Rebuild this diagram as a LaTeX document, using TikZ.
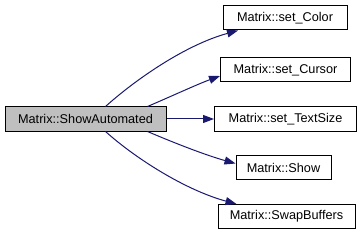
\documentclass[tikz,border=0pt]{standalone}
\usepackage{fontspec}
\setmainfont{Liberation Sans}
\usetikzlibrary{arrows.meta,calc}
\definecolor{edgeblue}{HTML}{191970}
\definecolor{maingray}{HTML}{BFBFBF}
\tikzset{
  fn/.style={draw=black, line width=1pt, fill=white, inner sep=0pt, minimum height=24pt,
    font=\fontsize{12.7}{14}\selectfont, anchor=center},
  edge/.style={draw=edgeblue, line width=1pt, -{Triangle[length=11pt,width=8pt]}}
}
\begin{document}
\begin{tikzpicture}[x=1pt,y=-1pt]
\useasboundingbox (0,0) rectangle (363,240);
\node[fn, fill=maingray, minimum width=161pt] (main) at (85.5,119) {Matrix::ShowAutomated};
\node[fn, minimum width=124pt] (color) at (285,18) {Matrix::set\_Color};
\node[fn, minimum width=130pt] (cursor) at (285.5,70) {Matrix::set\_Cursor};
\node[fn, minimum width=142pt] (textsize) at (285.5,119) {Matrix::set\_TextSize};
\node[fn, minimum width=95pt] (show) at (283.5,167.5) {Matrix::Show};
\node[fn, minimum width=137pt] (swap) at (286.5,216.5) {Matrix::SwapBuffers};
\draw[edge] ([xshift=20pt]main.north) .. controls (135,80) and (185,45) .. ([xshift=-47pt]color.south);
\draw[edge] ([xshift=62pt]main.north) .. controls (172,96) and (198,84) .. ([yshift=-6pt]cursor.west);
\draw[edge] (main.east) -- (textsize.west);
\draw[edge] ([xshift=62pt]main.south) .. controls (172,142) and (205,155) .. ([yshift=4pt]show.west);
\draw[edge] ([xshift=20pt]main.south) .. controls (135,158) and (185,190) .. ([xshift=-50pt]swap.north);
\end{tikzpicture}
\end{document}
